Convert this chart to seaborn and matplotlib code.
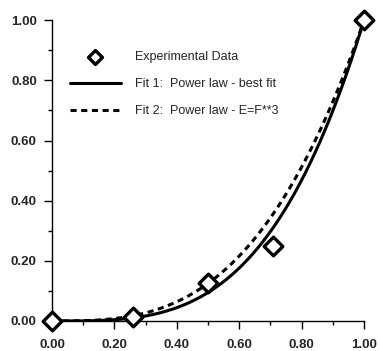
import numpy as np
import pandas as pd
import matplotlib
matplotlib.use("Agg")
import matplotlib.pyplot as plt
from matplotlib.ticker import MultipleLocator, FormatStrFormatter
import seaborn as sns

# Measured data
force = [0.0, 0.26, 0.50, 0.707, 1.0]
energy = [0.0, 0.014, 0.125, 0.25, 1.0]

# Power-law exponents of the two fits
best_fit_exponent = 3.4
cubic_exponent = 3.0

labels = ["Experimental Data",
          "Fit 1:  Power law - best fit",
          "Fit 2:  Power law - E=F**3"]

sns.set_style("ticks")
plt.rcParams["font.family"] = ["Liberation Sans", "DejaVu Sans"]

xs = np.linspace(0, 1, 300)
fits = pd.DataFrame({
    "F": np.concatenate([xs, xs]),
    "E": np.concatenate([xs ** best_fit_exponent, xs ** cubic_exponent]),
    "fit": [labels[1]] * len(xs) + [labels[2]] * len(xs),
})
data = pd.DataFrame({"F": force, "E": energy})

fig = plt.figure(figsize=(3.8, 3.51), dpi=100)
ax = fig.add_axes([0.137, 0.0855, 0.821, 0.857])

sns.lineplot(data=fits[fits["fit"] == labels[1]], x="F", y="E", ax=ax,
             color="black", lw=2.2, label=labels[1])
sns.lineplot(data=fits[fits["fit"] == labels[2]], x="F", y="E", ax=ax,
             color="black", lw=2.2, label=labels[2])
ax.lines[1].set_dashes([2.0, 1.5])

sns.scatterplot(data=data, x="F", y="E", ax=ax, marker="D", s=90,
                facecolor="white", edgecolor="black", linewidth=2.4,
                label=labels[0], zorder=5, clip_on=False)

ax.set_xlim(0, 1)
ax.set_ylim(0, 1)
ax.set_xlabel("")
ax.set_ylabel("")
ax.xaxis.set_major_locator(MultipleLocator(0.2))
ax.xaxis.set_minor_locator(MultipleLocator(0.1))
ax.yaxis.set_major_locator(MultipleLocator(0.2))
ax.yaxis.set_minor_locator(MultipleLocator(0.1))
ax.xaxis.set_major_formatter(FormatStrFormatter("%.2f"))
ax.yaxis.set_major_formatter(FormatStrFormatter("%.2f"))
ax.tick_params(which="major", length=6, width=1, pad=5, labelsize=9.5,
               direction="out", color="black")
ax.tick_params(axis="x", which="major", pad=7)
ax.tick_params(which="minor", length=3, width=1, direction="out", color="black")
for lab in ax.get_xticklabels() + ax.get_yticklabels():
    lab.set_fontweight("bold")
for s in ["left", "bottom"]:
    ax.spines[s].set_linewidth(1)
    ax.spines[s].set_color("black")
sns.despine(ax=ax)

handles, hl = ax.get_legend_handles_labels()
order = [hl.index(l) for l in labels]
ax.legend([handles[i] for i in order], [hl[i] for i in order],
          loc="upper left", bbox_to_anchor=(0.02, 0.935), frameon=False,
          fontsize=9, handlelength=4.15, handletextpad=1.05, labelspacing=1.2,
          markerscale=0.75)

fig.savefig("out.png", dpi=100)
